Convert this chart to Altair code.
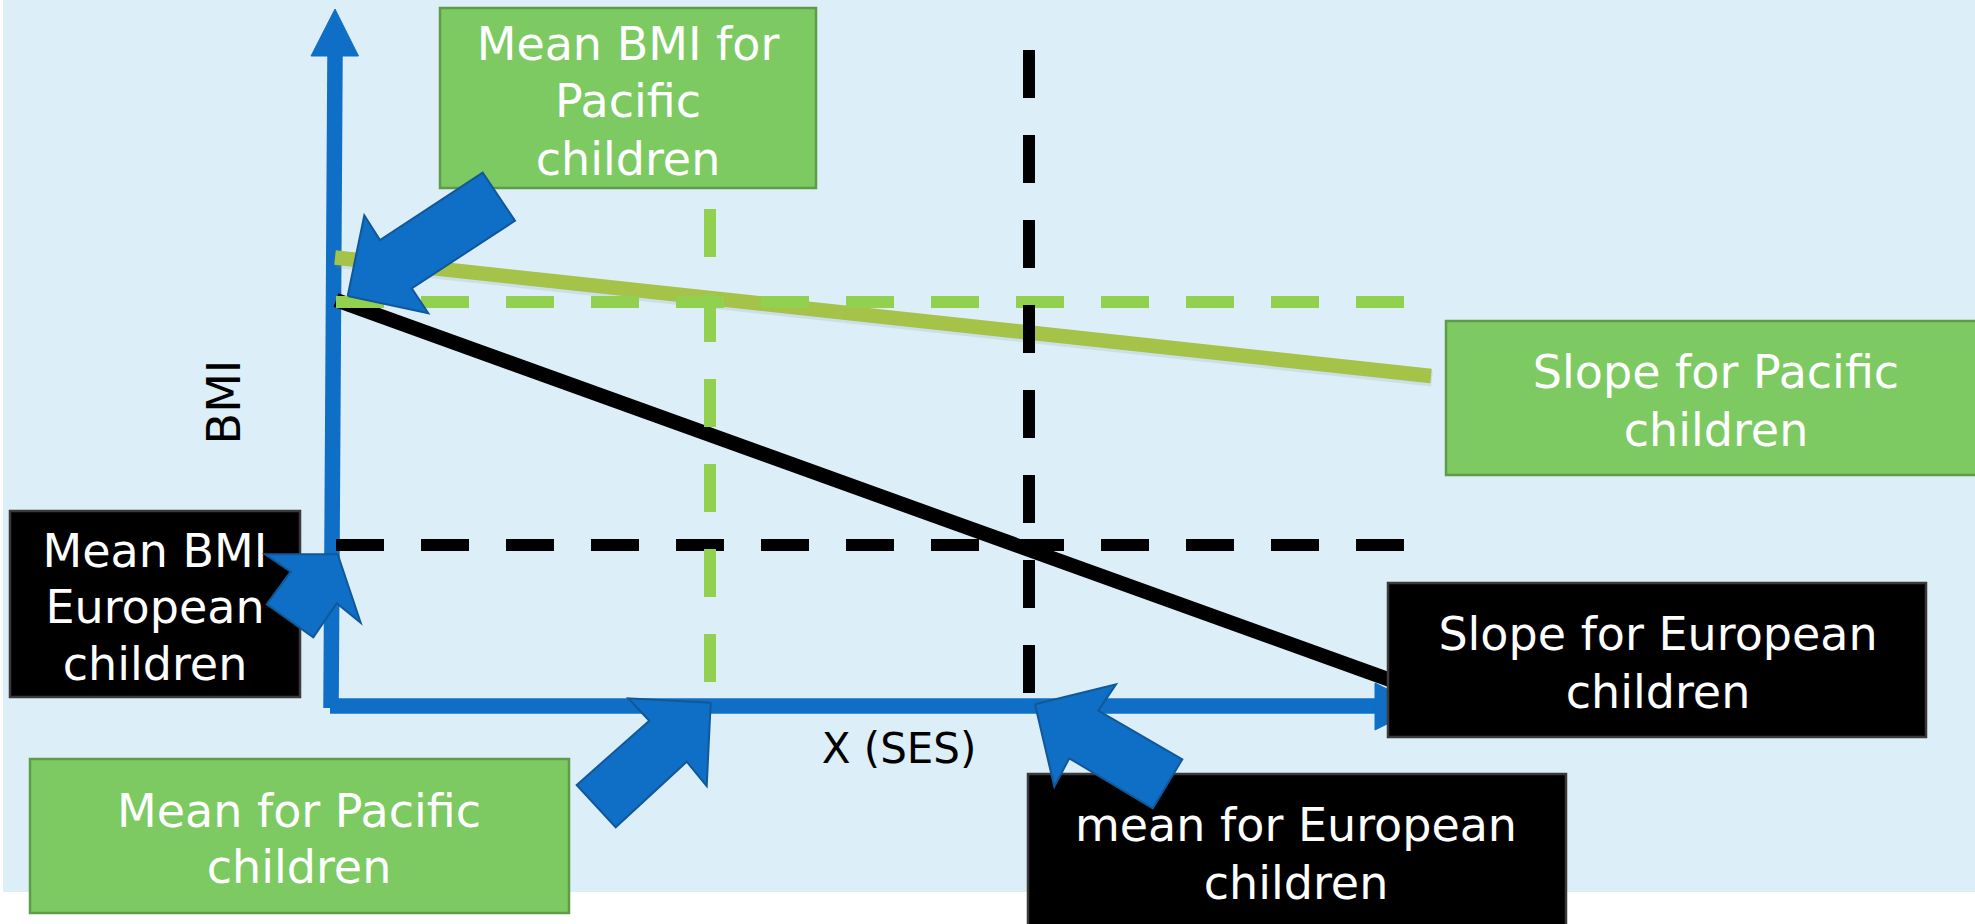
import altair as alt
import pandas as pd

W, H = 1975, 924

# Shared coordinate frame of the diagram: x grows to the right, y grows downward.
xs = alt.Scale(domain=[0, W], nice=False, zero=False)
ys = alt.Scale(domain=[0, H], nice=False, zero=False, reverse=True)

BLUE = "#0F6FC6"
BLUE_EDGE = "#10589A"
PACIFIC_BOX = "#7DCA62"
PACIFIC_EDGE = "#5F9C47"
PACIFIC_DASH = "#92D050"
PACIFIC_SLOPE = "#A5C249"
PANEL = "#DCEEF8"

# ---- annotation boxes -------------------------------------------------------
box_group = ["Pacific", "European", "Pacific", "Pacific", "European", "European"]
box_x0 = [440, 10, 30, 1446, 1388, 1028]
box_x1 = [816, 300, 569, 1986, 1926, 1566]
box_y0 = [8, 511, 759, 321, 583, 774]
box_y1 = [188, 697, 913, 475, 737, 935]

# ---- box captions (one entry per text line) ---------------------------------
caption_text = [
    "Mean BMI for", "Pacific", "children",
    "Mean BMI", "European", "children",
    "Mean for Pacific", "children",
    "Slope for Pacific", "children",
    "Slope for European", "children",
    "mean for European", "children",
]
caption_x = [628, 628, 628, 155, 155, 155, 299, 299, 1716, 1716, 1658, 1658, 1296, 1296]
caption_y = [60, 117, 175, 567, 623, 680, 827, 883, 388, 446, 650, 708, 841, 899]

# ---- regression lines for each group ----------------------------------------
slope_group = ["Pacific", "European"]
slope_x0 = [335, 336]
slope_y0 = [257.5, 300]
slope_x1 = [1431, 1400]
slope_y1 = [376, 683.5]

# ---- group means (dashed guides) --------------------------------------------
mean_group = ["Pacific", "European", "Pacific", "European"]
mean_x0 = [336, 336, 710, 1029]
mean_y0 = [302, 545, 209, 50]
mean_x1 = [1404, 1404, 710, 1029]
mean_y1 = [302, 545, 682, 693]

# ---- axes --------------------------------------------------------------------
axis_x0 = [335, 330]
axis_y0 = [56, 706]
axis_x1 = [331, 1378]
axis_y1 = [708, 706]
axis_heads = {
    "BMI": [(311, 56), (335, 9), (358.5, 56)],
    "SES": [(1375, 683), (1422, 706.5), (1375, 730)],
}

# ---- block arrows pointing from captions to the features ---------------------
block_arrows = {
    "pacific_mean_bmi": [(347.7, 296), (364.3, 215.3), (380, 240), (482.7, 172.7),
                         (515, 220.7), (411.7, 288.3), (428.3, 313.3)],
    "european_mean_bmi": [(337.7, 554.3), (360.7, 622.7), (336.7, 603.3), (313.3, 637.3),
                          (266.7, 604.3), (290.7, 571.7), (265, 554.3)],
    "pacific_mean_ses": [(710.7, 702.7), (706.7, 786), (686.7, 761.7), (615.7, 827.3),
                         (576.7, 785), (649.3, 720.7), (628.3, 698.3)],
    "european_mean_ses": [(1035, 704.3), (1116, 684.3), (1098.3, 710.7), (1182.3, 759.3),
                          (1152.7, 808.3), (1069.3, 758.3), (1054.3, 786.7)],
}

axis_titles = ["BMI", "X (SES)"]
axis_title_x = [240, 899]
axis_title_y = [402, 763]
axis_title_angle = [270, 0]
axis_title_size = [46, 42]


def polygon_frame(shapes):
    rows = []
    for name, pts in shapes.items():
        for i, (px, py) in enumerate(list(pts) + [pts[0]]):
            rows.append({"shape": name, "i": i, "x": px, "y": py})
    return pd.DataFrame(rows)


group_fill = alt.Scale(domain=["Pacific", "European"], range=[PACIFIC_BOX, "#000000"])
group_edge = alt.Scale(domain=["Pacific", "European"], range=[PACIFIC_EDGE, "#3A3A3A"])
dash_color = alt.Scale(domain=["Pacific", "European"], range=[PACIFIC_DASH, "#000000"])
slope_color = alt.Scale(domain=["Pacific", "European"], range=[PACIFIC_SLOPE, "#000000"])

panel = alt.Chart(pd.DataFrame({"x0": [3], "x1": [W], "y0": [0], "y1": [892]})).mark_rect(
    color=PANEL
).encode(
    x=alt.X("x0:Q", scale=xs, axis=None), x2="x1:Q",
    y=alt.Y("y0:Q", scale=ys, axis=None), y2="y1:Q",
)

axes = alt.Chart(pd.DataFrame({"x0": axis_x0, "y0": axis_y0, "x1": axis_x1, "y1": axis_y1})).mark_rule(
    color=BLUE, strokeWidth=15.5
).encode(
    x=alt.X("x0:Q", scale=xs, axis=None), x2="x1:Q",
    y=alt.Y("y0:Q", scale=ys, axis=None), y2="y1:Q",
)

heads = alt.Chart(polygon_frame(axis_heads)).mark_line(
    filled=True, fill=BLUE, stroke=BLUE, strokeWidth=1
).encode(
    x=alt.X("x:Q", scale=xs, axis=None),
    y=alt.Y("y:Q", scale=ys, axis=None),
    order="i:Q", detail="shape:N",
)

slope_df = pd.DataFrame({"group": slope_group, "x0": slope_x0, "y0": slope_y0,
                         "x1": slope_x1, "y1": slope_y1})

# faint drop shadow under the Pacific slope
shadow = alt.Chart(slope_df.iloc[:1]).mark_rule(
    color="#7d8c96", opacity=0.16, strokeWidth=15
).encode(
    x=alt.X("sx0:Q", scale=xs, axis=None), x2="sx1:Q",
    y=alt.Y("sy0:Q", scale=ys, axis=None), y2="sy1:Q",
).transform_calculate(
    sx0="datum.x0 + 1", sx1="datum.x1 + 1", sy0="datum.y0 + 3", sy1="datum.y1 + 3"
)

slopes = alt.Chart(slope_df).mark_rule(strokeWidth=14.5).encode(
    x=alt.X("x0:Q", scale=xs, axis=None), x2="x1:Q",
    y=alt.Y("y0:Q", scale=ys, axis=None), y2="y1:Q",
    color=alt.Color("group:N", scale=slope_color, legend=None),
)

means = alt.Chart(pd.DataFrame({"group": mean_group, "x0": mean_x0, "y0": mean_y0,
                                "x1": mean_x1, "y1": mean_y1})).mark_rule(
    strokeWidth=12, strokeDash=[48, 37]
).encode(
    x=alt.X("x0:Q", scale=xs, axis=None), x2="x1:Q",
    y=alt.Y("y0:Q", scale=ys, axis=None), y2="y1:Q",
    color=alt.Color("group:N", scale=dash_color, legend=None),
)

boxes = alt.Chart(pd.DataFrame({"group": box_group, "x0": box_x0, "x1": box_x1,
                                "y0": box_y0, "y1": box_y1})).mark_rect(
    strokeWidth=2.5, clip=True
).encode(
    x=alt.X("x0:Q", scale=xs, axis=None), x2="x1:Q",
    y=alt.Y("y0:Q", scale=ys, axis=None), y2="y1:Q",
    fill=alt.Fill("group:N", scale=group_fill, legend=None),
    stroke=alt.Stroke("group:N", scale=group_edge, legend=None),
)

captions = alt.Chart(pd.DataFrame({"text": caption_text, "x": caption_x, "y": caption_y})).mark_text(
    font="DejaVu Sans", fontSize=46, color="white", align="center", baseline="alphabetic"
).encode(
    x=alt.X("x:Q", scale=xs, axis=None),
    y=alt.Y("y:Q", scale=ys, axis=None),
    text="text:N",
)

arrows = alt.Chart(polygon_frame(block_arrows)).mark_line(
    filled=True, fill=BLUE, stroke=BLUE_EDGE, strokeWidth=2, strokeJoin="miter"
).encode(
    x=alt.X("x:Q", scale=xs, axis=None),
    y=alt.Y("y:Q", scale=ys, axis=None),
    order="i:Q", detail="shape:N",
)

titles = alt.Chart(pd.DataFrame({"text": axis_titles, "x": axis_title_x, "y": axis_title_y,
                                 "angle": axis_title_angle, "size": axis_title_size})).mark_text(
    font="DejaVu Sans", color="black", align="center", baseline="alphabetic"
).encode(
    x=alt.X("x:Q", scale=xs, axis=None),
    y=alt.Y("y:Q", scale=ys, axis=None),
    text="text:N",
    angle=alt.Angle("angle:Q", scale=None),
    size=alt.Size("size:Q", scale=None, legend=None),
)

chart = alt.layer(
    panel, axes, heads, shadow, slopes, means, boxes, captions, arrows, titles
).resolve_scale(
    color="independent"
).properties(
    width=W, height=H, padding=0, autosize="none", background="white"
).configure_view(stroke=None)

chart.save("out.html", embed_options={"renderer": "svg", "actions": False})
